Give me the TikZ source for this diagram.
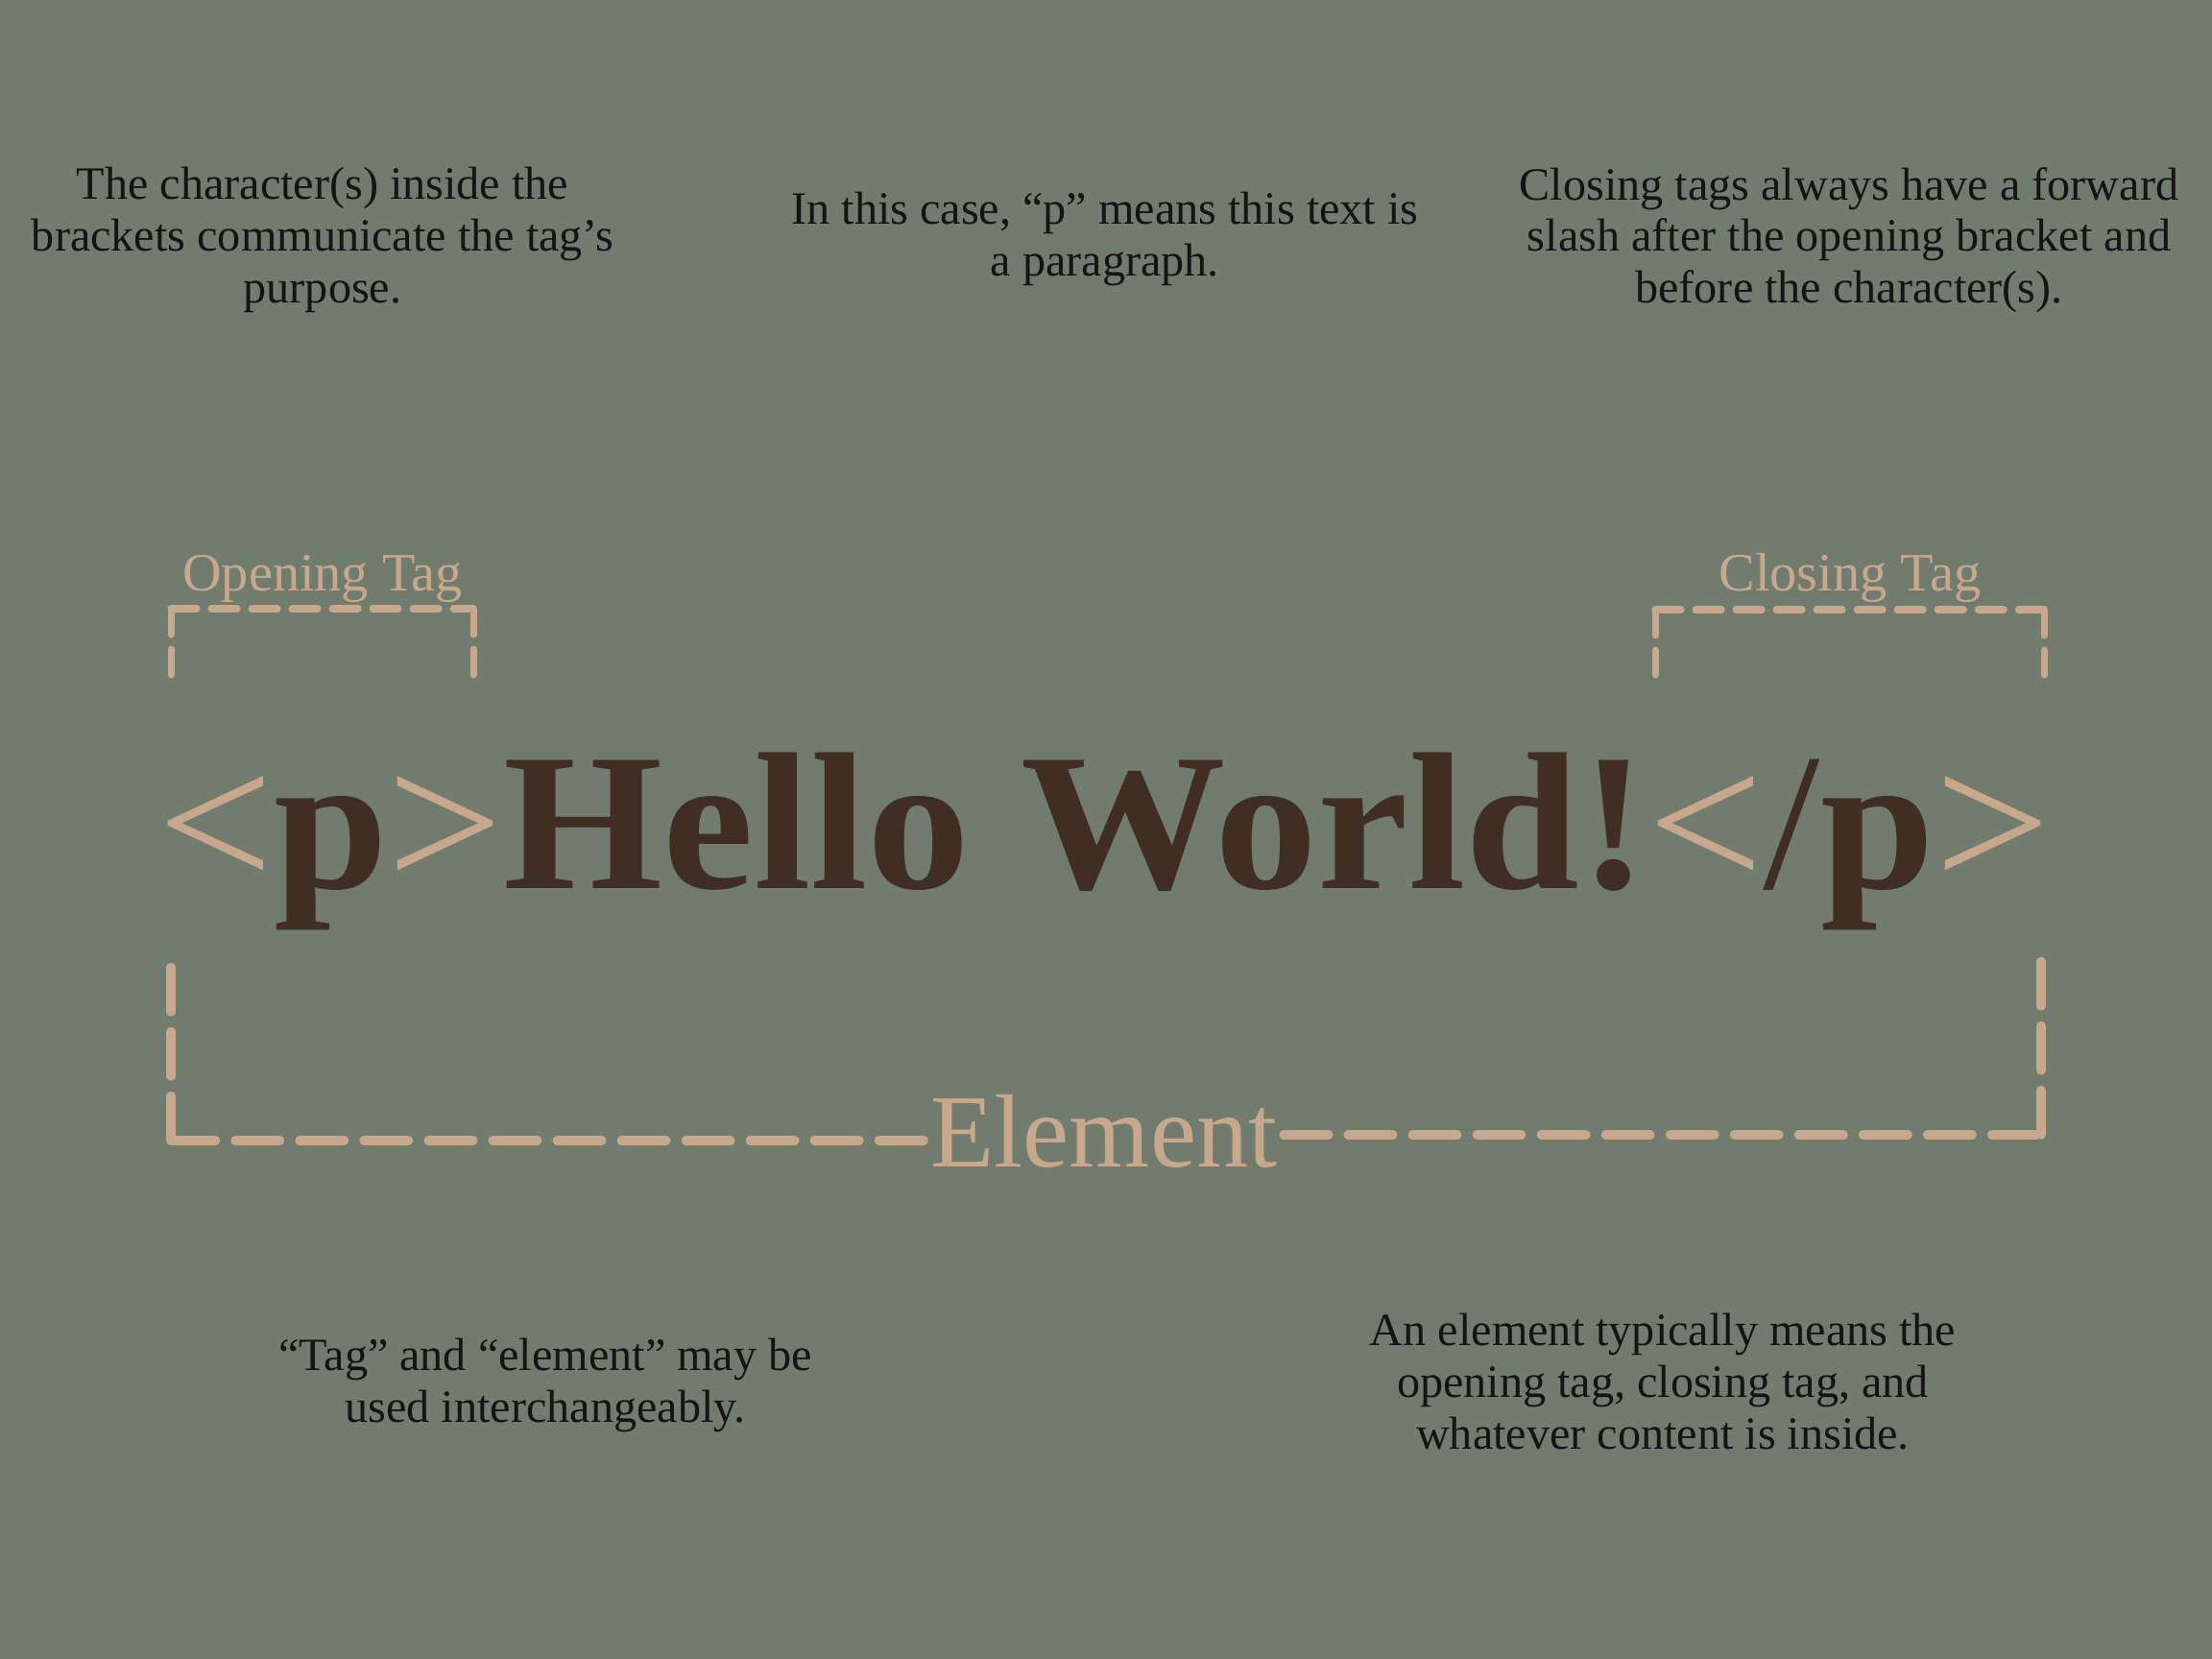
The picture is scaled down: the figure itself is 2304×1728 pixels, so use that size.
\documentclass[tikz,border=0pt]{standalone}
\usepackage{fontspec}
\setmainfont{Liberation Serif}
\usetikzlibrary{positioning}
\definecolor{sage}{HTML}{717C6F}
\definecolor{clay}{HTML}{C8A88C}
\definecolor{cocoa}{HTML}{402D24}
\definecolor{ink}{HTML}{141414}

\begin{document}
\begin{tikzpicture}[x=0.01cm,y=-0.01cm,
    note/.style={text=ink,align=center,inner sep=0pt,font=\fontsize{13.7}{15.3}\selectfont},
    taglabel/.style={text=clay,inner sep=0pt,anchor=base,font=\fontsize{16}{19}\selectfont},
    tagline/.style={draw=clay,line width=0.07cm,line cap=round,dash pattern=on 0.27cm off 0.15cm},
    elemline/.style={draw=clay,line width=0.095cm,line cap=round,dash pattern=on 0.465cm off 0.205cm}]
  \fill[sage] (0,0) rectangle (2304,1728);
  \useasboundingbox (0,0) rectangle (2304,1728);

  % explanations
  \node[note] (chars) at (336,250) {The character(s) inside the\\brackets communicate the tag’s\\purpose.};
  \node[note] (para) at (1151,249) {In this case, “p” means this text is\\a paragraph.};
  \node[note] (slash) at (1926,250) {Closing tags always have a forward\\slash after the opening bracket and\\before the character(s).};
  \node[note] (same) at (568,1443) {“Tag” and “element” may be\\used interchangeably.};
  \node[note] (whole) at (1732,1439) {An element typically means the\\opening tag, closing tag, and\\whatever content is inside.};

  % the element itself
  \node[inner sep=0pt,anchor=base,font=\fontsize{58}{60}\selectfont] (hello) at (1150,925)
    {\scalebox{1.047}[1]{\color{clay}<\color{cocoa}\bfseries p\mdseries\color{clay}>\color{cocoa}\bfseries Hello World!\mdseries\color{clay}<\color{cocoa}/\bfseries p\mdseries\color{clay}>}};

  % opening tag
  \node[taglabel] (open) at (336,615) {Opening Tag};
  \coordinate (o1) at (178,703);
  \coordinate (o2) at (178,634);
  \coordinate (o3) at (493,634);
  \coordinate (o4) at (493,703);
  \draw[tagline] (o2) -- (o1);
  \draw[tagline] (o2) -- (o3);
  \draw[tagline] (o3) -- (o4);

  % closing tag
  \node[taglabel] (close) at (1927,615) {Closing Tag};
  \coordinate (c1) at (1724,703);
  \coordinate (c2) at (1724,635);
  \coordinate (c3) at (2129,635);
  \coordinate (c4) at (2129,703);
  \draw[tagline] (c2) -- (c1);
  \draw[tagline] (c2) -- (c3);
  \draw[tagline] (c3) -- (c4);

  % element bracket
  \node[inner sep=0pt,inner xsep=0.06cm,anchor=base,text=clay,font=\fontsize{30.8}{36}\selectfont] (elem) at (1150,1215) {Element};
  \coordinate (lt) at (178,995);
  \coordinate (lc) at (178,1188);
  \coordinate (rt) at (2126,987);
  \coordinate (rc) at (2126,1182);
  \draw[elemline] (lc) -- (lt);
  \draw[elemline] (lc) -- (elem.west |- lc);
  \draw[elemline] (elem.east |- rc) -- (rc);
  \draw[elemline] (rc) -- (rt);
\end{tikzpicture}
\end{document}
